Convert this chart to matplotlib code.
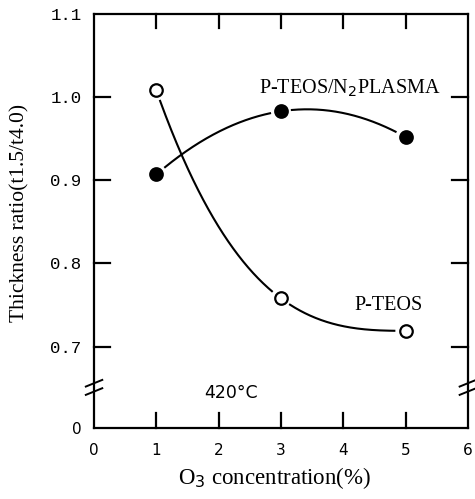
import numpy as np
import matplotlib
matplotlib.use('Agg')
import matplotlib.pyplot as plt

# data
o3 = [1, 3, 5]
p_teos = [1.008, 0.758, 0.719]
p_teos_n2 = [0.907, 0.983, 0.952]

y_ticks = [0.7, 0.8, 0.9, 1.0, 1.1]
y_labels = ['0.7', '0.8', '0.9', '1.0', '1.1']
x_ticks = [0, 1, 2, 3, 4, 5, 6]

# broken axis: value 0 drawn a bit below 0.7
y_zero = 0.602

fig = plt.figure(figsize=(4.75, 4.99), dpi=100)
ax = fig.add_axes([0.198, 0.142, 0.787, 0.830])
ax.set_xlim(0, 6)
ax.set_ylim(y_zero, 1.1)

for s in ax.spines.values():
    s.set_linewidth(1.6)


def smooth(xs, ys, kind):
    xx = np.linspace(xs[0], xs[-1], 400)
    if kind == 'flat_end':
        # cubic through the points, levelling off at the last one
        rows = [[1, x, x ** 2, x ** 3] for x in xs]
        rows.append([0, 1, 2 * xs[-1], 3 * xs[-1] ** 2])
        c = np.linalg.solve(np.array(rows, float), np.array(list(ys) + [0.0]))
        yy = c[0] + c[1] * xx + c[2] * xx ** 2 + c[3] * xx ** 3
    else:
        yy = np.polyval(np.polyfit(xs, ys, 2), xx)
    return xx, yy


def draw_curve(xs, ys, kind, filled):
    xx, yy = smooth(xs, ys, kind)
    # leave a small gap around each marker (approx. in pixels)
    d = np.full(xx.shape, np.inf)
    for px, py in zip(xs, ys):
        d = np.minimum(d, np.hypot((xx - px) * 62.3, (yy - py) * 837))
    yy = np.where(d < 11, np.nan, yy)
    ax.plot(xx, yy, color='black', lw=1.5)
    ax.plot(xs, ys, 'o', ms=9, mew=1.6, mec='black',
            mfc='black' if filled else 'white')


draw_curve(o3, p_teos, 'flat_end', False)
draw_curve(o3, p_teos_n2, 'quad', True)

# ticks
ax.set_xticks(x_ticks)
ax.set_xticklabels([str(v) for v in x_ticks], fontsize=11, family='DejaVu Sans')
ax.set_yticks([y_zero] + y_ticks)
ax.set_yticklabels(['0'] + y_labels, fontsize=12.5, family='Liberation Mono')
ylabs = ax.get_yticklabels()
ylabs[0].set_family('DejaVu Sans')
ylabs[0].set_fontsize(11)
ax.tick_params(axis='x', length=0, pad=11)
ax.tick_params(axis='y', length=0, pad=9)

# inward tick marks drawn by hand
for xv in x_ticks[1:-1]:
    ax.plot([xv, xv], [0, 0.036], transform=ax.get_xaxis_transform(),
            color='black', lw=1.6, clip_on=False)
    ax.plot([xv, xv], [1, 0.965], transform=ax.get_xaxis_transform(),
            color='black', lw=1.6, clip_on=False)
for yv in y_ticks[:-1]:
    ax.plot([0, 0.043], [yv, yv], transform=ax.get_yaxis_transform(),
            color='black', lw=1.6, clip_on=False)
    ax.plot([1, 0.957], [yv, yv], transform=ax.get_yaxis_transform(),
            color='black', lw=1.6, clip_on=False)

# axis break marks
yb = 0.651
for xs in (0, 1):
    for off in (-0.005, 0.005):
        ax.plot([xs - 0.022, xs + 0.022], [yb + off - 0.004, yb + off + 0.004],
                transform=ax.get_yaxis_transform(), color='black', lw=1.4,
                clip_on=False)

ax.text(4.11, 1.011, 'P-TEOS/N$_2$PLASMA', ha='center', va='center',
        fontsize=14.5, family='Liberation Serif')
ax.text(4.73, 0.750, 'P-TEOS', ha='center', va='center',
        fontsize=14.5, family='Liberation Serif')
ax.text(2.2, 0.085, '420°C', transform=ax.get_xaxis_transform(),
        ha='center', va='center', fontsize=12.5, family='DejaVu Sans')

ax.set_xlabel('O$_3$ concentration(%)', fontsize=16.5, family='Liberation Serif')
ax.set_ylabel('Thickness ratio(t1.5/t4.0)', fontsize=15.5,
              family='Liberation Serif')
ax.xaxis.set_label_coords(0.484, -0.121)
ax.yaxis.set_label_coords(-0.198, 0.519)
ax.xaxis.label.set_va('center')
ax.yaxis.label.set_va('center')

fig.savefig('out.png', dpi=100)
